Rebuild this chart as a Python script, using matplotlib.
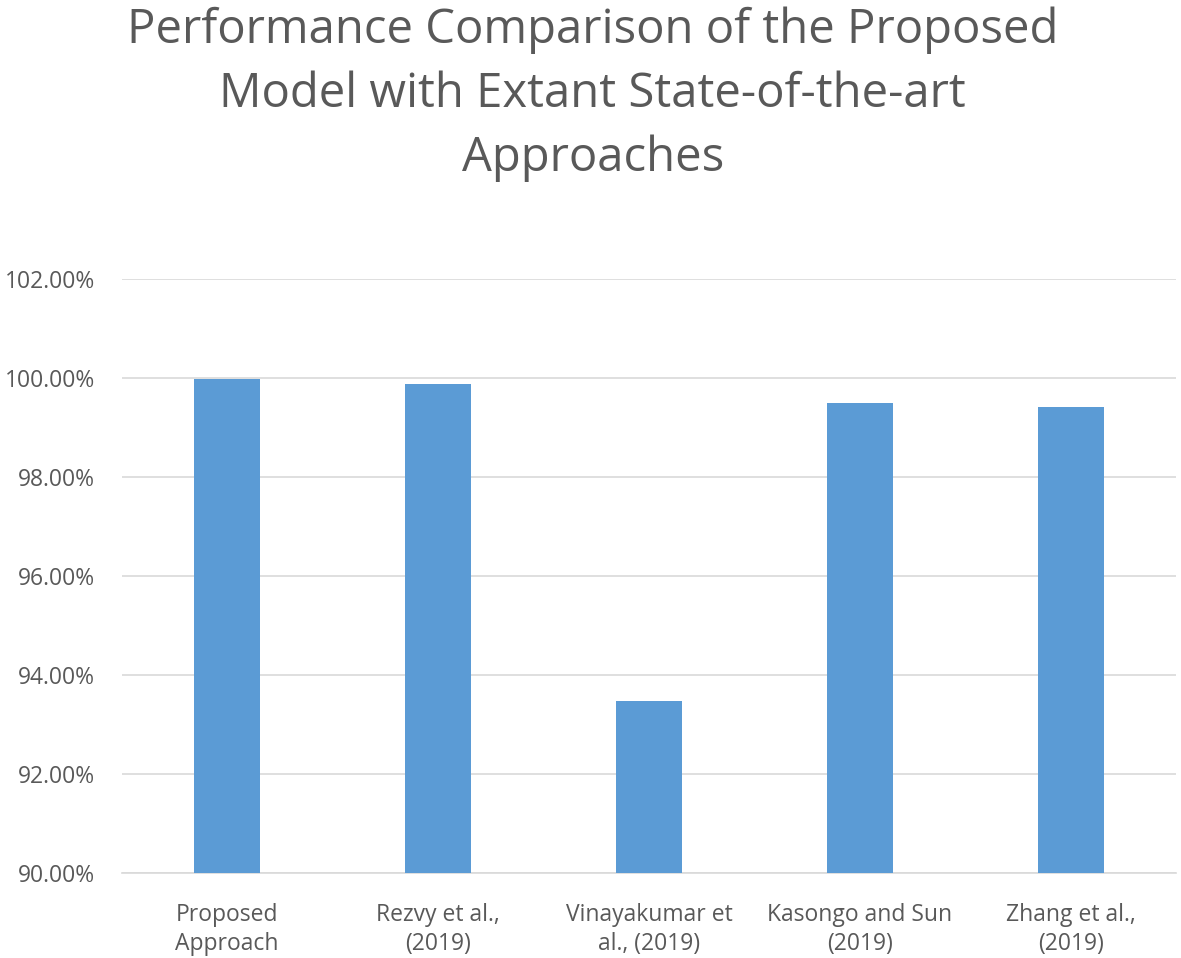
import numpy as np
import matplotlib.pyplot as plt
from matplotlib.ticker import FuncFormatter

# data
categories = ["Proposed\nApproach", "Rezvy et al.,\n(2019)", "Vinayakumar et\nal., (2019)",
              "Kasongo and Sun\n(2019)", "Zhang et al.,\n(2019)"]
accuracy = [99.97, 99.87, 93.47, 99.50, 99.41]
yticks = [90, 92, 94, 96, 98, 100, 102]

plt.rcParams['font.family'] = ['Open Sans', 'DejaVu Sans']

fig = plt.figure(figsize=(11.81, 9.58), dpi=100)
ax = fig.add_axes([0.103, 0.089, 0.893, 0.620])

x = np.arange(len(categories))
ax.bar(x, accuracy, width=0.31, color="#5B9BD5", zorder=3)

ax.set_ylim(90, 102)
ax.set_xlim(-0.5, len(categories) - 0.5)
ax.set_yticks(yticks)
ax.yaxis.set_major_formatter(FuncFormatter(lambda v, p: f"{v:.2f}%"))
ax.set_xticks(x)
ax.set_xticklabels(categories, fontsize=16.5, color="#595959", linespacing=1.25)
ax.tick_params(axis='y', labelsize=16.5, labelcolor="#595959", length=0, pad=19)
ax.tick_params(axis='x', length=0, pad=22)

ax.grid(axis='y', color="#D9D9D9", linewidth=1.2, zorder=0)
for s in ["top", "right", "left"]:
    ax.spines[s].set_visible(False)
ax.spines["bottom"].set_color("#D9D9D9")
ax.spines["bottom"].set_linewidth(1.2)

fig.text(0.502, 0.993, "Performance Comparison of the Proposed\nModel with Extant State-of-the-art\nApproaches",
         ha="center", va="top", fontsize=34, color="#595959", linespacing=1.45)

fig.savefig("out.png", dpi=100)
